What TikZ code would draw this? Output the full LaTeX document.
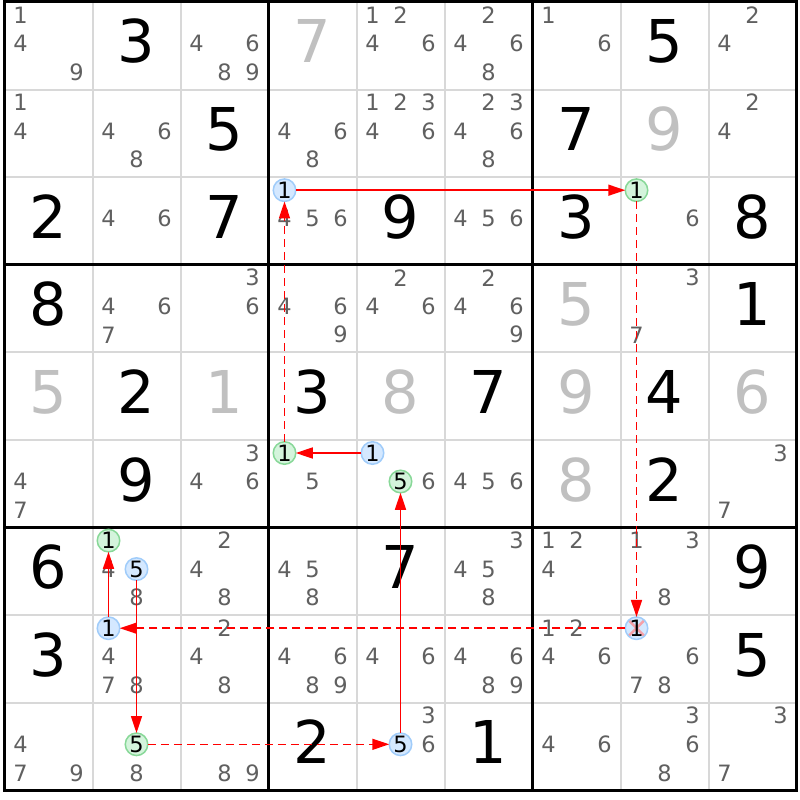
\documentclass[tikz,border=0pt]{standalone}
\usepackage{fontspec}
\setmainfont{DejaVu Sans}
\usetikzlibrary{arrows.meta}
\definecolor{candgray}{HTML}{606060}
\definecolor{solvedgray}{HTML}{C0C0C0}
\definecolor{gridgray}{HTML}{D8D8D8}
\definecolor{bluefill}{HTML}{D4E8FF}
\definecolor{blueline}{HTML}{A0CCFA}
\definecolor{greenfill}{HTML}{D4F4DC}
\definecolor{greenline}{HTML}{88D898}
\definecolor{crossred}{HTML}{F5A0A8}

\begin{document}
\begin{tikzpicture}[x=1pt,y=-1pt,
    cand/.style={text=candgray,font=\fontsize{22.5}{24}\selectfont,inner sep=0pt},
    given/.style={anchor=base,font=\fontsize{59}{60}\selectfont,inner sep=0pt},
    solved/.style={given,text=solvedgray},
    onblue/.style={cand,text=black,circle,draw=blueline,fill=bluefill,line width=1.5pt,minimum size=22.5pt,outer sep=0pt},
    ongreen/.style={onblue,draw=greenline,fill=greenfill},
    strong/.style={red,line width=1.6pt,-{Triangle[length=17pt,width=11pt]}},
    weak/.style={strong,dash pattern=on 8pt off 5pt}]
  \useasboundingbox (0,0) rectangle (800,800);
  \fill[white] (0,0) rectangle (800,800);
  \foreach \i in {1,...,8}{
    \draw[gridgray,line width=2pt] ({4.5+88*\i},2) -- ({4.5+88*\i},790.4);
    \draw[gridgray,line width=2pt] (4.5,{2+87.6*\i}) -- (796.5,{2+87.6*\i});
  }
  \foreach \i in {3,6}{
    \draw[line width=3pt] ({4.5+88*\i},2) -- ({4.5+88*\i},790.4);
    \draw[line width=3pt] (4.5,{2+87.6*\i}) -- (796.5,{2+87.6*\i});
  }
  \draw[line width=3pt] (4.5,2) rectangle (796.5,790.4);
  \foreach \r in {1,...,9}{
    \foreach \c in {1,...,9}{
      \coordinate (m\r\c) at ({48.5+88*(\c-1)},{63+87.6*(\r-1)});
      \foreach \d in {1,...,9}{
        \pgfmathtruncatemacro\i{mod(\d-1,3)}
        \pgfmathtruncatemacro\j{div(\d-1,3)}
        \coordinate (p\r\c\d) at ({20.5+88*(\c-1)+28*\i},{15+87.6*(\r-1)+28.5*\j});
      }
    }
  }
  \foreach \r/\c/\v in {1/2/3,1/8/5,2/3/5,2/7/7,3/1/2,3/3/7,3/5/9,3/7/3,3/9/8,
      4/1/8,4/9/1,5/2/2,5/4/3,5/6/7,5/8/4,6/2/9,6/8/2,7/1/6,7/5/7,7/9/9,
      8/1/3,8/9/5,9/4/2,9/6/1}
    \node[given] (g\r\c) at (m\r\c) {\v};
  \foreach \r/\c/\v in {1/4/7,2/8/9,4/7/5,5/1/5,5/3/1,5/5/8,5/7/9,5/9/6,6/7/8}
    \node[solved] (g\r\c) at (m\r\c) {\v};
  \foreach \r/\c/\l in {1/1/{1,4,9},1/3/{4,6,8,9},1/5/{1,2,4,6},1/6/{2,4,6,8},
      1/7/{1,6},1/9/{2,4},2/1/{1,4},2/2/{4,6,8},2/4/{4,6,8},2/5/{1,2,3,4,6},
      2/6/{2,3,4,6,8},2/9/{2,4},3/2/{4,6},3/4/{4,5,6},3/6/{4,5,6},3/8/{6},
      4/2/{4,6,7},4/3/{3,6},4/4/{4,6,9},4/5/{2,4,6},4/6/{2,4,6,9},4/8/{3,7},
      6/1/{4,7},6/3/{3,4,6},6/4/{5},6/5/{6},6/6/{4,5,6},6/9/{3,7},
      7/2/{4,8},7/3/{2,4,8},7/4/{4,5,8},7/6/{3,4,5,8},7/7/{1,2,4},7/8/{1,3,8},
      8/2/{4,7,8},8/3/{2,4,8},8/4/{4,6,8,9},8/5/{4,6},8/6/{4,6,8,9},
      8/7/{1,2,4,6},8/8/{6,7,8},9/1/{4,7,9},9/2/{8},9/3/{8,9},9/5/{3,6},
      9/7/{4,6},9/8/{3,6,8},9/9/{3,7}}
    \foreach \d in \l
      \node[cand] (k\r\c\d) at (p\r\c\d) {\d};
  \foreach \n/\d in {341/1,651/1,725/5,821/1,955/5}
    \node[onblue] (h\n) at (p\n) {\d};
  \foreach \n/\d in {381/1,641/1,655/5,721/1,925/5}
    \node[ongreen] (h\n) at (p\n) {\d};
  \node[onblue,path picture={
      \draw[crossred,line width=2.5pt]
        (path picture bounding box.north west) -- (path picture bounding box.south east)
        (path picture bounding box.north east) -- (path picture bounding box.south west);
    }] (h881) at (p881) {1};
  \draw[strong] (h341) -- (h381);
  \draw[weak] (h381) -- (h881);
  \draw[weak] (h881) -- (h821);
  \draw[strong] (h821) -- (h721);
  \draw[strong] (h725) -- (h925);
  \draw[weak] (h925) -- (h955);
  \draw[strong] (h955) -- (h655);
  \draw[strong] (h651) -- (h641);
  \draw[weak] (h641) -- (h341);
\end{tikzpicture}
\end{document}
